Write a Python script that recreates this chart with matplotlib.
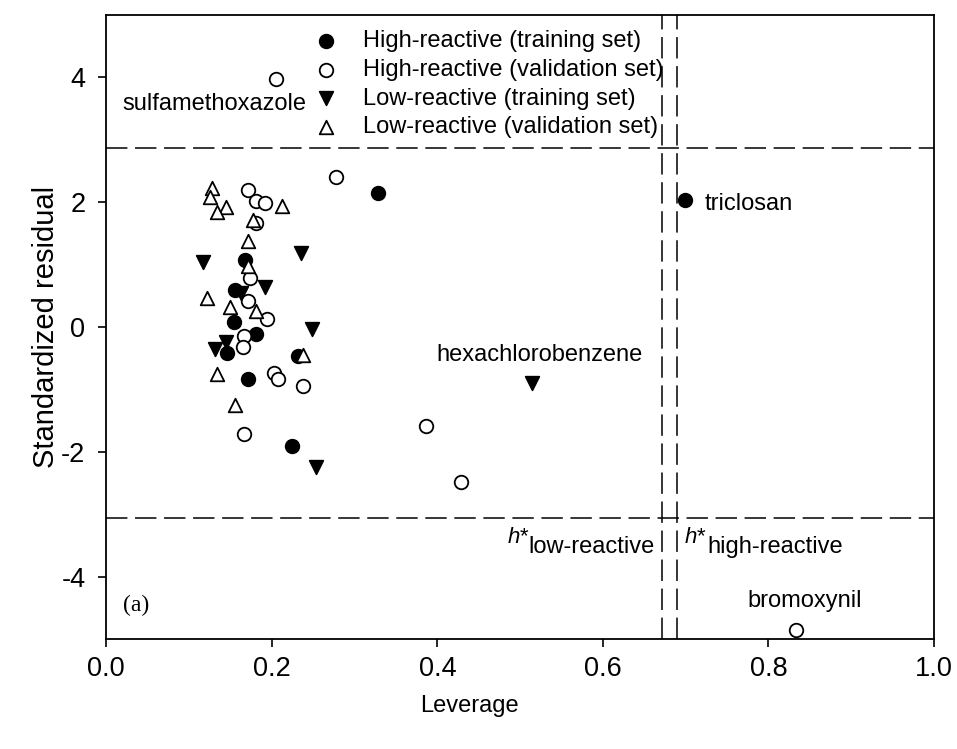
import matplotlib.pyplot as plt
import numpy as np

plt.rcParams['font.family'] = ['Liberation Sans', 'DejaVu Sans']
plt.rcParams['mathtext.fontset'] = 'custom'
plt.rcParams['mathtext.rm'] = 'Liberation Sans'
plt.rcParams['mathtext.it'] = 'Liberation Sans:italic'

# High-reactive, training set (filled circles)
hi_train_x = [0.699, 0.328, 0.225, 0.168, 0.155, 0.154, 0.181, 0.146, 0.232, 0.171]
hi_train_y = [2.03, 2.14, -1.91, 1.07, 0.59, 0.08, -0.11, -0.42, -0.47, -0.83]

# High-reactive, validation set (open circles)
hi_val_x = [0.205, 0.833, 0.278, 0.386, 0.429, 0.167, 0.171, 0.181, 0.192, 0.181,
            0.174, 0.171, 0.194, 0.167, 0.165, 0.203, 0.208, 0.238]
hi_val_y = [3.98, -4.85, 2.41, -1.58, -2.49, -1.72, 2.19, 2.02, 1.99, 1.67,
            0.78, 0.41, 0.12, -0.15, -0.32, -0.74, -0.83, -0.95]

# Low-reactive, training set (filled down triangles)
lo_train_x = [0.514, 0.253, 0.117, 0.235, 0.192, 0.163, 0.249, 0.145, 0.132]
lo_train_y = [-0.90, -2.24, 1.04, 1.18, 0.64, 0.55, -0.04, -0.24, -0.36]

# Low-reactive, validation set (open up triangles)
lo_val_x = [0.128, 0.125, 0.145, 0.134, 0.212, 0.177, 0.171, 0.171, 0.122, 0.150,
            0.181, 0.238, 0.134, 0.156]
lo_val_y = [2.22, 2.08, 1.92, 1.84, 1.94, 1.72, 1.37, 0.97, 0.47, 0.32,
            0.26, -0.45, -0.75, -1.25]

h_low = 0.671
h_high = 0.689
res_upper = 2.86
res_lower = -3.07

fig = plt.figure(figsize=(9.57, 7.49), dpi=100)
ax = fig.add_axes([0.111, 0.147, 0.865, 0.833])

ms = 95
ax.scatter(hi_train_x, hi_train_y, s=ms, marker='o', facecolor='black',
           edgecolor='black', linewidths=1.3, label='High-reactive (training set)', zorder=3)
ax.scatter(hi_val_x, hi_val_y, s=ms, marker='o', facecolor='white',
           edgecolor='black', linewidths=1.3, label='High-reactive (validation set)', zorder=3)
ax.scatter(lo_train_x, lo_train_y, s=ms, marker='v', facecolor='black',
           edgecolor='black', linewidths=1.3, label='Low-reactive (training set)', zorder=3)
ax.scatter(lo_val_x, lo_val_y, s=ms, marker='^', facecolor='white',
           edgecolor='black', linewidths=1.3, label='Low-reactive (validation set)', zorder=3)

dash = (0, (14, 5))
ax.axhline(res_upper, color='black', lw=1.1, linestyle=dash, zorder=1)
ax.axhline(res_lower, color='black', lw=1.1, linestyle=dash, zorder=1)
ax.axvline(h_low, color='black', lw=1.1, linestyle=dash, zorder=1)
ax.axvline(h_high, color='black', lw=1.1, linestyle=dash, zorder=1)

ax.set_xlim(0, 1.0)
ax.set_ylim(-5, 5)
ax.set_xticks(np.arange(0, 1.01, 0.2))
ax.set_yticks([-4, -2, 0, 2, 4])
ax.set_xticklabels(['0.0', '0.2', '0.4', '0.6', '0.8', '1.0'])
ax.set_yticklabels(['-4', '-2', '0', '2', '4'])
ax.tick_params(direction='out', length=6, width=1.2, labelsize=19.5, pad=6)
ax.tick_params(axis='y', pad=9)
for s in ax.spines.values():
    s.set_linewidth(1.3)

ax.set_xlabel('Leverage', fontsize=17, labelpad=12)
ax.xaxis.set_label_coords(0.439, -0.09)
ax.set_ylabel('Standardized residual', fontsize=21, labelpad=1)

fs = 17
ax.text(0.131, 3.58, 'sulfamethoxazole', fontsize=fs, ha='center', va='center')
ax.text(0.723, 1.97, 'triclosan', fontsize=fs, ha='left', va='center')
ax.text(0.524, -0.45, 'hexachlorobenzene', fontsize=fs, ha='center', va='center')
ax.text(0.844, -4.40, 'bromoxynil', fontsize=fs, ha='center', va='center')

# h* labels: raised italic h*, lowered subscript text
ax.text(0.511, -3.47, r'$h$*', fontsize=16, ha='right', va='baseline')
ax.text(0.663, -3.63, 'low-reactive', fontsize=17, ha='right', va='baseline')
ax.text(0.698, -3.47, r'$h$*', fontsize=16, ha='left', va='baseline')
ax.text(0.7257, -3.63, 'high-reactive', fontsize=17, ha='left', va='baseline')

ax.text(0.02, -4.47, '(a)', fontsize=17, family='Liberation Serif', ha='left', va='center')

ax.legend(loc='upper center', bbox_to_anchor=(0.455, 1.0), frameon=False,
          fontsize=fs, handletextpad=0.55, labelspacing=0.28, borderaxespad=0.25)

fig.savefig('out.png', dpi=100)
